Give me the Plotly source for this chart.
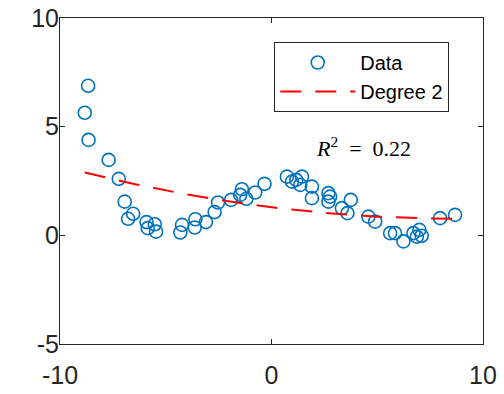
import numpy as np
import plotly.graph_objects as go

x_data = [-8.67, -8.83, -8.65, -7.70, -7.22, -6.94, -6.54, -6.78, -5.91, -5.85,
          -5.52, -5.46, -4.31, -4.23, -3.63, -3.60, -3.10, -2.69, -2.53, -1.91,
          -1.40, -1.48, -1.19, -0.77, -0.33, 0.73, 0.97, 1.17, 1.44, 1.36,
          1.91, 1.91, 2.69, 2.77, 2.69, 3.75, 3.33, 3.59, 4.58, 4.90,
          5.61, 5.84, 6.24, 6.71, 6.99, 7.10, 6.87, 7.97, 8.68]
y_data = [6.88, 5.64, 4.39, 3.47, 2.60, 1.55, 0.99, 0.76, 0.61, 0.33,
          0.51, 0.17, 0.13, 0.48, 0.36, 0.74, 0.61, 1.07, 1.51, 1.63,
          2.12, 1.86, 1.68, 1.97, 2.37, 2.70, 2.47, 2.55, 2.70, 2.32,
          2.24, 1.71, 1.94, 1.78, 1.55, 1.63, 1.25, 1.02, 0.86, 0.63,
          0.10, 0.10, -0.28, 0.10, 0.25, -0.02, -0.06, 0.79, 0.94]
x_ticks = [-10, 0, 10]
y_ticks = [-5, 0, 5, 10]
r2_label = "<i>R</i><sup>2</sup> &nbsp;= &nbsp;0.22"

coef = np.polyfit(x_data, y_data, 2)
x_fit = np.linspace(min(x_data), max(x_data), 200)
y_fit = np.polyval(coef, x_fit)

fig = go.Figure()
fig.add_trace(go.Scatter(
    x=x_data, y=y_data, mode="markers", name="Data",
    marker=dict(symbol="circle-open", size=13, color="#0072BD",
                line=dict(width=1.6, color="#0072BD")),
))
fig.add_trace(go.Scatter(
    x=x_fit, y=y_fit, mode="lines", name="Degree 2",
    line=dict(color="#FF0000", width=2, dash="21px,14px"),
))

axis_common = dict(
    showgrid=False, zeroline=False, showline=True, mirror="ticks",
    linecolor="#262626", linewidth=1, ticks="inside", ticklen=5,
    tickcolor="#262626", automargin=False,
    tickfont=dict(family="Liberation Sans, Arial", size=25, color="#262626"),
)
fig.update_xaxes(range=[-10, 10], tickvals=x_ticks, ticktext=[str(v) for v in x_ticks],
                 ticklabelstandoff=9, **axis_common)
fig.update_yaxes(range=[-5, 10], tickvals=y_ticks, ticktext=[str(v) for v in y_ticks],
                 ticklabelposition="outside", ticklabelstandoff=-5, **axis_common)

fig.add_annotation(
    xref="paper", x=(363 - 59.5) / 423.5, yref="paper", y=(344 - 147) / 326,
    xanchor="center", yanchor="middle",
    text=r2_label, showarrow=False,
    font=dict(family="Liberation Serif, DejaVu Serif", size=22, color="black"),
)

fig.update_layout(
    width=504, height=394,
    margin=dict(l=59.5, r=21, t=18, b=50),
    paper_bgcolor="white", plot_bgcolor="white",
    showlegend=True,
    legend=dict(
        x=(274 - 59.5) / 423.5, y=(344 - 42) / 326, xanchor="left", yanchor="top",
        bordercolor="#262626", borderwidth=1, bgcolor="white",
        font=dict(family="Liberation Sans, Arial", size=20, color="black"),
        itemwidth=75, tracegroupgap=0,
    ),
)
fig.write_html("out.html", config={"displayModeBar": False},
               post_script="document.body.style.margin='0';")
